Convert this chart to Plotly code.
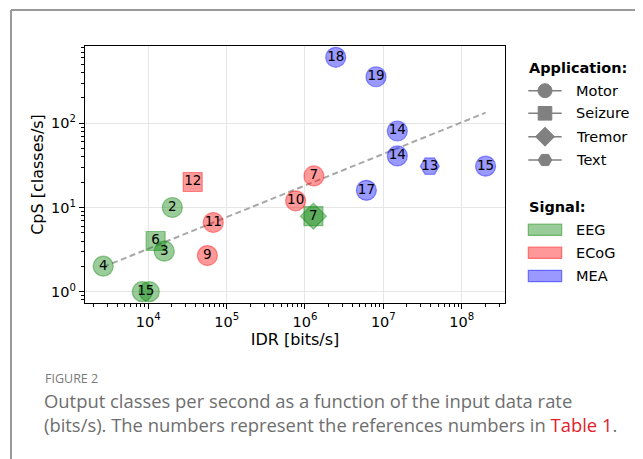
import plotly.graph_objects as go
import math

# ---------------- data ----------------
refs = ["18", "19", "14", "14", "13", "15", "17",
        "7", "10", "12", "11", "9",
        "7", "7", "2", "6", "3", "4", "15", "15"]
signal = ["MEA", "MEA", "MEA", "MEA", "MEA", "MEA", "MEA",
          "ECoG", "ECoG", "ECoG", "ECoG", "ECoG",
          "EEG", "EEG", "EEG", "EEG", "EEG", "EEG", "EEG", "EEG"]
application = ["Motor", "Motor", "Motor", "Motor", "Text", "Motor", "Motor",
               "Motor", "Motor", "Seizure", "Motor", "Motor",
               "Seizure", "Tremor", "Motor", "Seizure", "Motor", "Motor", "Motor", "Motor"]
idr = [2.47e6, 8.07e6, 1.51e7, 1.51e7, 3.92e7, 2.02e8, 6.08e6,
       1.30e6, 7.6e5, 3.69e4, 6.76e4, 5.68e4,
       1.28e6, 1.28e6, 2.03e4, 1.24e4, 1.60e4, 2.66e3, 8.38e3, 1.03e4]
cps = [608, 357, 81, 41, 31, 31, 16,
       23.7, 12.0, 20.1, 6.64, 2.69,
       7.9, 7.9, 10.0, 4.0, 3.03, 2.01, 1.0, 1.0]

trend_idr = [2.66e3, 2.02e8]
trend_cps = [1.97, 133.7]

x_ticks = [1e4, 1e5, 1e6, 1e7, 1e8]
x_ticktext = ["10<sup>4</sup>", "10<sup>5</sup>", "10<sup>6</sup>",
              "10<sup>7</sup>", "10<sup>8</sup>"]
y_ticks = [1, 10, 100]
y_ticktext = ["10<sup>0</sup>", "10<sup>1</sup>", "10<sup>2</sup>"]

app_names = ["Motor", "Seizure", "Tremor", "Text"]
sig_names = ["EEG", "ECoG", "MEA"]

# minor tick positions (2..9 in each decade)
x_minor = [k * 10 ** d for d in range(3, 9) for k in range(2, 10)]
y_minor = [k * 10 ** d for d in range(-1, 3) for k in range(2, 10)]

# ---------------- styles ----------------
sig_rgb = {"EEG": (0, 128, 0), "ECoG": (255, 0, 0), "MEA": (0, 0, 255)}
app_symbol = {"Motor": "circle", "Seizure": "square", "Tremor": "diamond", "Text": "hexagon2"}
app_size = {"Motor": 20, "Seizure": 19, "Tremor": 20, "Text": 19}

FONT = "DejaVu Sans"


def rgba(c, a):
    return "rgba(%d,%d,%d,%s)" % (c[0], c[1], c[2], a)


# page geometry (pixels in the 643x459 window); the html body adds an 8px margin
PAGE_W, PAGE_H, OFF = 643, 459, 8
W, H = PAGE_W - OFF, PAGE_H - OFF
L, R, T, B = 85, 505, 46, 303        # plot area in page pixels
pw, ph = R - L, B - T


def px(x):
    return (x - L) / pw


def py(y):
    return (B - y) / ph


fig = go.Figure()

# trend line
fig.add_trace(go.Scatter(x=trend_idr, y=trend_cps, mode="lines",
                         line=dict(color="#a8a8a8", width=2, dash="6px,3.5px"),
                         hoverinfo="skip", showlegend=False))

# markers, grouped by signal and application
for s in sig_names:
    for a in app_names:
        idx = [i for i in range(len(refs)) if signal[i] == s and application[i] == a]
        if not idx:
            continue
        fig.add_trace(go.Scatter(
            x=[idr[i] for i in idx], y=[cps[i] for i in idx],
            mode="markers",
            marker=dict(symbol=app_symbol[a], size=app_size[a],
                        color=rgba(sig_rgb[s], 0.4),
                        line=dict(color=rgba(sig_rgb[s], 0.4), width=1.2)),
            showlegend=False, hoverinfo="skip"))

# labels: identical labels at the same y (overlapping points) are merged
lab_x, lab_y, lab_t = [], [], []
used = set()
for i in range(len(refs)):
    if i in used:
        continue
    group = [j for j in range(len(refs))
             if j not in used and refs[j] == refs[i] and signal[j] == signal[i]
             and cps[j] == cps[i]]
    for j in group:
        used.add(j)
    gx = math.exp(sum(math.log(idr[j]) for j in group) / len(group))
    lab_x.append(gx)
    lab_y.append(cps[i])
    lab_t.append(refs[i])

fig.add_trace(go.Scatter(x=lab_x, y=lab_y, mode="text", text=lab_t,
                         textposition="middle center",
                         textfont=dict(family=FONT, size=13.5, color="black"),
                         showlegend=False, hoverinfo="skip"))

shapes = []
annotations = []

# ---------------- legend (manual) ----------------
grey = "#808080"
leg_x0, leg_x1, leg_tx = 528.3, 561.7, 574
mid = (leg_x0 + leg_x1) / 2
app_y = [90.7, 113.3, 136.7, 160.0]
sig_y = [229.7, 252.7, 276.0]

annotations.append(dict(x=px(527), y=py(68.3), xref="paper", yref="paper",
                        text="<b>Application:</b>", showarrow=False,
                        xanchor="left", yanchor="middle",
                        font=dict(family=FONT, size=14.5, color="black")))
annotations.append(dict(x=px(527), y=py(207.3), xref="paper", yref="paper",
                        text="<b>Signal:</b>", showarrow=False,
                        xanchor="left", yanchor="middle",
                        font=dict(family=FONT, size=14.5, color="black")))

glyph_paths = {
    "Tremor": "M0,9.5 L9.5,0 L0,-9.5 L-9.5,0 Z",
    "Text": "M-3.5,5.6 L3.5,5.6 L6.8,0 L3.5,-5.6 L-3.5,-5.6 L-6.8,0 Z",
}
for a, yy in zip(app_names, app_y):
    shapes.append(dict(type="line", xref="paper", yref="paper",
                       x0=px(leg_x0), x1=px(leg_x1), y0=py(yy), y1=py(yy),
                       line=dict(color=grey, width=1.5)))
    base = dict(xref="paper", yref="paper", xsizemode="pixel", ysizemode="pixel",
                xanchor=px(mid), yanchor=py(yy), fillcolor=grey,
                line=dict(color=grey, width=1))
    if a == "Motor":
        shapes.append(dict(type="circle", x0=-7, x1=7, y0=-7, y1=7, **base))
    elif a == "Seizure":
        shapes.append(dict(type="rect", x0=-6.8, x1=6.8, y0=-6.8, y1=6.8, **base))
    else:
        shapes.append(dict(type="path", path=glyph_paths[a], **base))
    annotations.append(dict(x=px(leg_tx), y=py(yy), xref="paper", yref="paper",
                            text=a, showarrow=False, xanchor="left", yanchor="middle",
                            font=dict(family=FONT, size=14.5, color="black")))

for s, yy in zip(sig_names, sig_y):
    shapes.append(dict(type="rect", xref="paper", yref="paper",
                       x0=px(leg_x0), x1=px(leg_x1), y0=py(yy - 5.7), y1=py(yy + 5.7),
                       fillcolor=rgba(sig_rgb[s], 0.4),
                       line=dict(color=rgba(sig_rgb[s], 0.45), width=1.2)))
    annotations.append(dict(x=px(leg_tx), y=py(yy), xref="paper", yref="paper",
                            text=s, showarrow=False, xanchor="left", yanchor="middle",
                            font=dict(family=FONT, size=14.5, color="black")))

# ---------------- page frame ----------------
shapes.append(dict(type="line", xref="paper", yref="paper",
                   x0=px(11), x1=px(PAGE_W + 5), y0=py(10), y1=py(10),
                   line=dict(color="#999999", width=2)))
shapes.append(dict(type="line", xref="paper", yref="paper",
                   x0=px(11), x1=px(11), y0=py(10), y1=py(PAGE_H + 5),
                   line=dict(color="#999999", width=2)))

# ---------------- caption ----------------
annotations.append(dict(x=px(43), y=py(378), xref="paper", yref="paper",
                        text="FIGURE 2", showarrow=False, xanchor="left", yanchor="middle",
                        font=dict(family="Open Sans", size=12.5, color="#7a7a7a")))
annotations.append(dict(x=px(42), y=py(400), xref="paper", yref="paper",
                        text="Output classes per second as a function of the input data rate",
                        showarrow=False, xanchor="left", yanchor="middle",
                        font=dict(family="Open Sans", size=18.4, color="#6e6e6e")))
annotations.append(dict(x=px(42), y=py(424), xref="paper", yref="paper",
                        text="(bits/s). The numbers represent the references numbers in "
                             "<span style='color:#e2202c'>Table 1</span>.",
                        showarrow=False, xanchor="left", yanchor="middle",
                        font=dict(family="Open Sans", size=18.4, color="#6e6e6e")))

axis_common = dict(type="log", showline=True, linecolor="black", linewidth=1.3,
                   mirror=True, ticks="outside", ticklen=5, tickwidth=1.2,
                   tickcolor="black", showgrid=True, gridcolor="#e6e6e6", gridwidth=1,
                   zeroline=False, tickmode="array",
                   tickfont=dict(family=FONT, size=14.5, color="black"))

fig.update_layout(
    width=W, height=H,
    margin=dict(l=L - OFF, r=PAGE_W - R, t=T - OFF, b=PAGE_H - B),
    paper_bgcolor="white", plot_bgcolor="white",
    showlegend=False,
    shapes=shapes, annotations=annotations,
    xaxis=dict(range=[3.192, 8.553], tickvals=x_ticks, ticktext=x_ticktext,
               minor=dict(tickmode="array", tickvals=x_minor, ticks="outside",
                          ticklen=3, tickwidth=1, tickcolor="black", showgrid=False),
               title=dict(text="IDR [bits/s]", standoff=3,
                          font=dict(family=FONT, size=16, color="black")),
               **axis_common),
    yaxis=dict(range=[-0.134, 2.918], tickvals=y_ticks, ticktext=y_ticktext,
               minor=dict(tickmode="array", tickvals=y_minor, ticks="outside",
                          ticklen=3, tickwidth=1, tickcolor="black", showgrid=False),
               title=dict(text="CpS [classes/s]", standoff=3,
                          font=dict(family=FONT, size=16, color="black")),
               **axis_common),
)

fig.write_html("out.html")
